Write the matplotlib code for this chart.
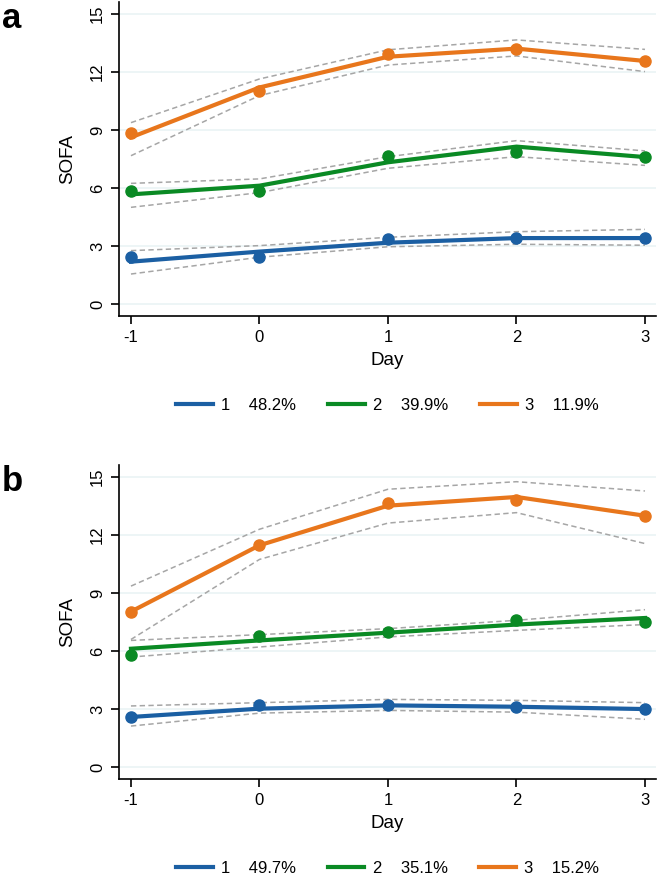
import matplotlib
matplotlib.use('Agg')
import matplotlib.pyplot as plt

plt.rcParams['font.family'] = ['Liberation Sans', 'DejaVu Sans']
plt.rcParams['axes.unicode_minus'] = False

days = [-1, 0, 1, 2, 3]
groups = ["1", "2", "3"]
colors = ["#1b5fa3", "#0a8a24", "#e8761c"]

# panel a: observed means, fitted trajectories, CI bounds
a_obs = [[2.45, 2.45, 3.36, 3.41, 3.41],
         [5.85, 5.86, 7.66, 7.85, 7.62],
         [8.85, 11.03, 12.93, 13.21, 12.57]]
a_fit = [[2.19, 2.71, 3.17, 3.41, 3.41],
         [5.67, 6.12, 7.33, 8.14, 7.60],
         [8.62, 11.20, 12.79, 13.21, 12.57]]
a_hi = [[2.76, 3.02, 3.45, 3.74, 3.86],
        [6.24, 6.47, 7.62, 8.45, 7.92],
        [9.38, 11.64, 13.15, 13.66, 13.17]]
a_lo = [[1.55, 2.42, 2.96, 3.09, 3.04],
        [5.00, 5.76, 7.02, 7.62, 7.17],
        [7.67, 10.78, 12.36, 12.83, 12.02]]
a_pct = ["48.2%", "39.9%", "11.9%"]

# panel b
b_obs = [[2.59, 3.19, 3.19, 3.10, 3.00],
         [5.78, 6.78, 6.98, 7.62, 7.49],
         [8.04, 11.47, 13.68, 13.80, 13.00]]
b_fit = [[2.59, 3.02, 3.19, 3.12, 3.00],
         [6.12, 6.55, 6.95, 7.37, 7.71],
         [8.04, 11.47, 13.52, 13.97, 13.00]]
b_hi = [[3.16, 3.33, 3.50, 3.45, 3.33],
        [6.55, 6.85, 7.16, 7.59, 8.14],
        [9.36, 12.30, 14.37, 14.76, 14.28]]
b_lo = [[2.12, 2.79, 2.93, 2.84, 2.47],
        [5.69, 6.21, 6.73, 7.07, 7.37],
        [6.60, 10.74, 12.62, 13.16, 11.56]]
b_pct = ["49.7%", "35.1%", "15.2%"]

yticks = [0, 3, 6, 9, 12, 15]

fig = plt.figure(figsize=(6.59, 8.77), dpi=100)
ax_a = fig.add_axes([0.1806, 0.6397, 0.8149, 0.358])
ax_b = fig.add_axes([0.1806, 0.1117, 0.8149, 0.358])


def draw_panel(ax, obs, fit, hi, lo, pct, letter):
    for y in yticks:
        ax.axhline(y, color="#eaf3f5", lw=1.2, zorder=0)
    for i in range(3):
        ax.plot(days, hi[i], color="#a6a6a6", lw=1.1, ls=(0, (3.5, 2.2)), zorder=2)
        ax.plot(days, lo[i], color="#a6a6a6", lw=1.1, ls=(0, (3.5, 2.2)), zorder=2)
    handles = []
    for i in range(3):
        ln, = ax.plot(days, fit[i], color=colors[i], lw=3.0, zorder=3,
                      label=f"{groups[i]}    {pct[i]}")
        ax.plot(days, obs[i], "o", color=colors[i], ms=8, zorder=4)
        handles.append(ln)
    ax.set_xlim(-1.093, 3.086)
    ax.set_ylim(-0.62, 15.62)
    ax.set_xticks(days)
    ax.set_yticks(yticks)
    ax.set_yticklabels([str(t) for t in yticks], rotation=90, va="center")
    for s in ["top", "right"]:
        ax.spines[s].set_visible(False)
    for s in ["left", "bottom"]:
        ax.spines[s].set_linewidth(1.2)
    ax.tick_params(axis="both", length=6, width=1.2, labelsize=12, pad=4)
    ax.set_xlabel("Day", fontsize=13.5, labelpad=5)
    ax.set_ylabel("SOFA", fontsize=13.5, labelpad=10)
    ax.legend(handles=handles, loc="center", bbox_to_anchor=(0.5, -0.285),
              ncol=3, frameon=False, fontsize=12, handlelength=2.2,
              handletextpad=0.5, columnspacing=1.9)
    ax.text(-0.218, 1.0, letter, transform=ax.transAxes, fontsize=25,
            fontweight="bold", ha="left", va="top")


draw_panel(ax_a, a_obs, a_fit, a_hi, a_lo, a_pct, "a")
draw_panel(ax_b, b_obs, b_fit, b_hi, b_lo, b_pct, "b")

fig.savefig("out.png", dpi=100)
